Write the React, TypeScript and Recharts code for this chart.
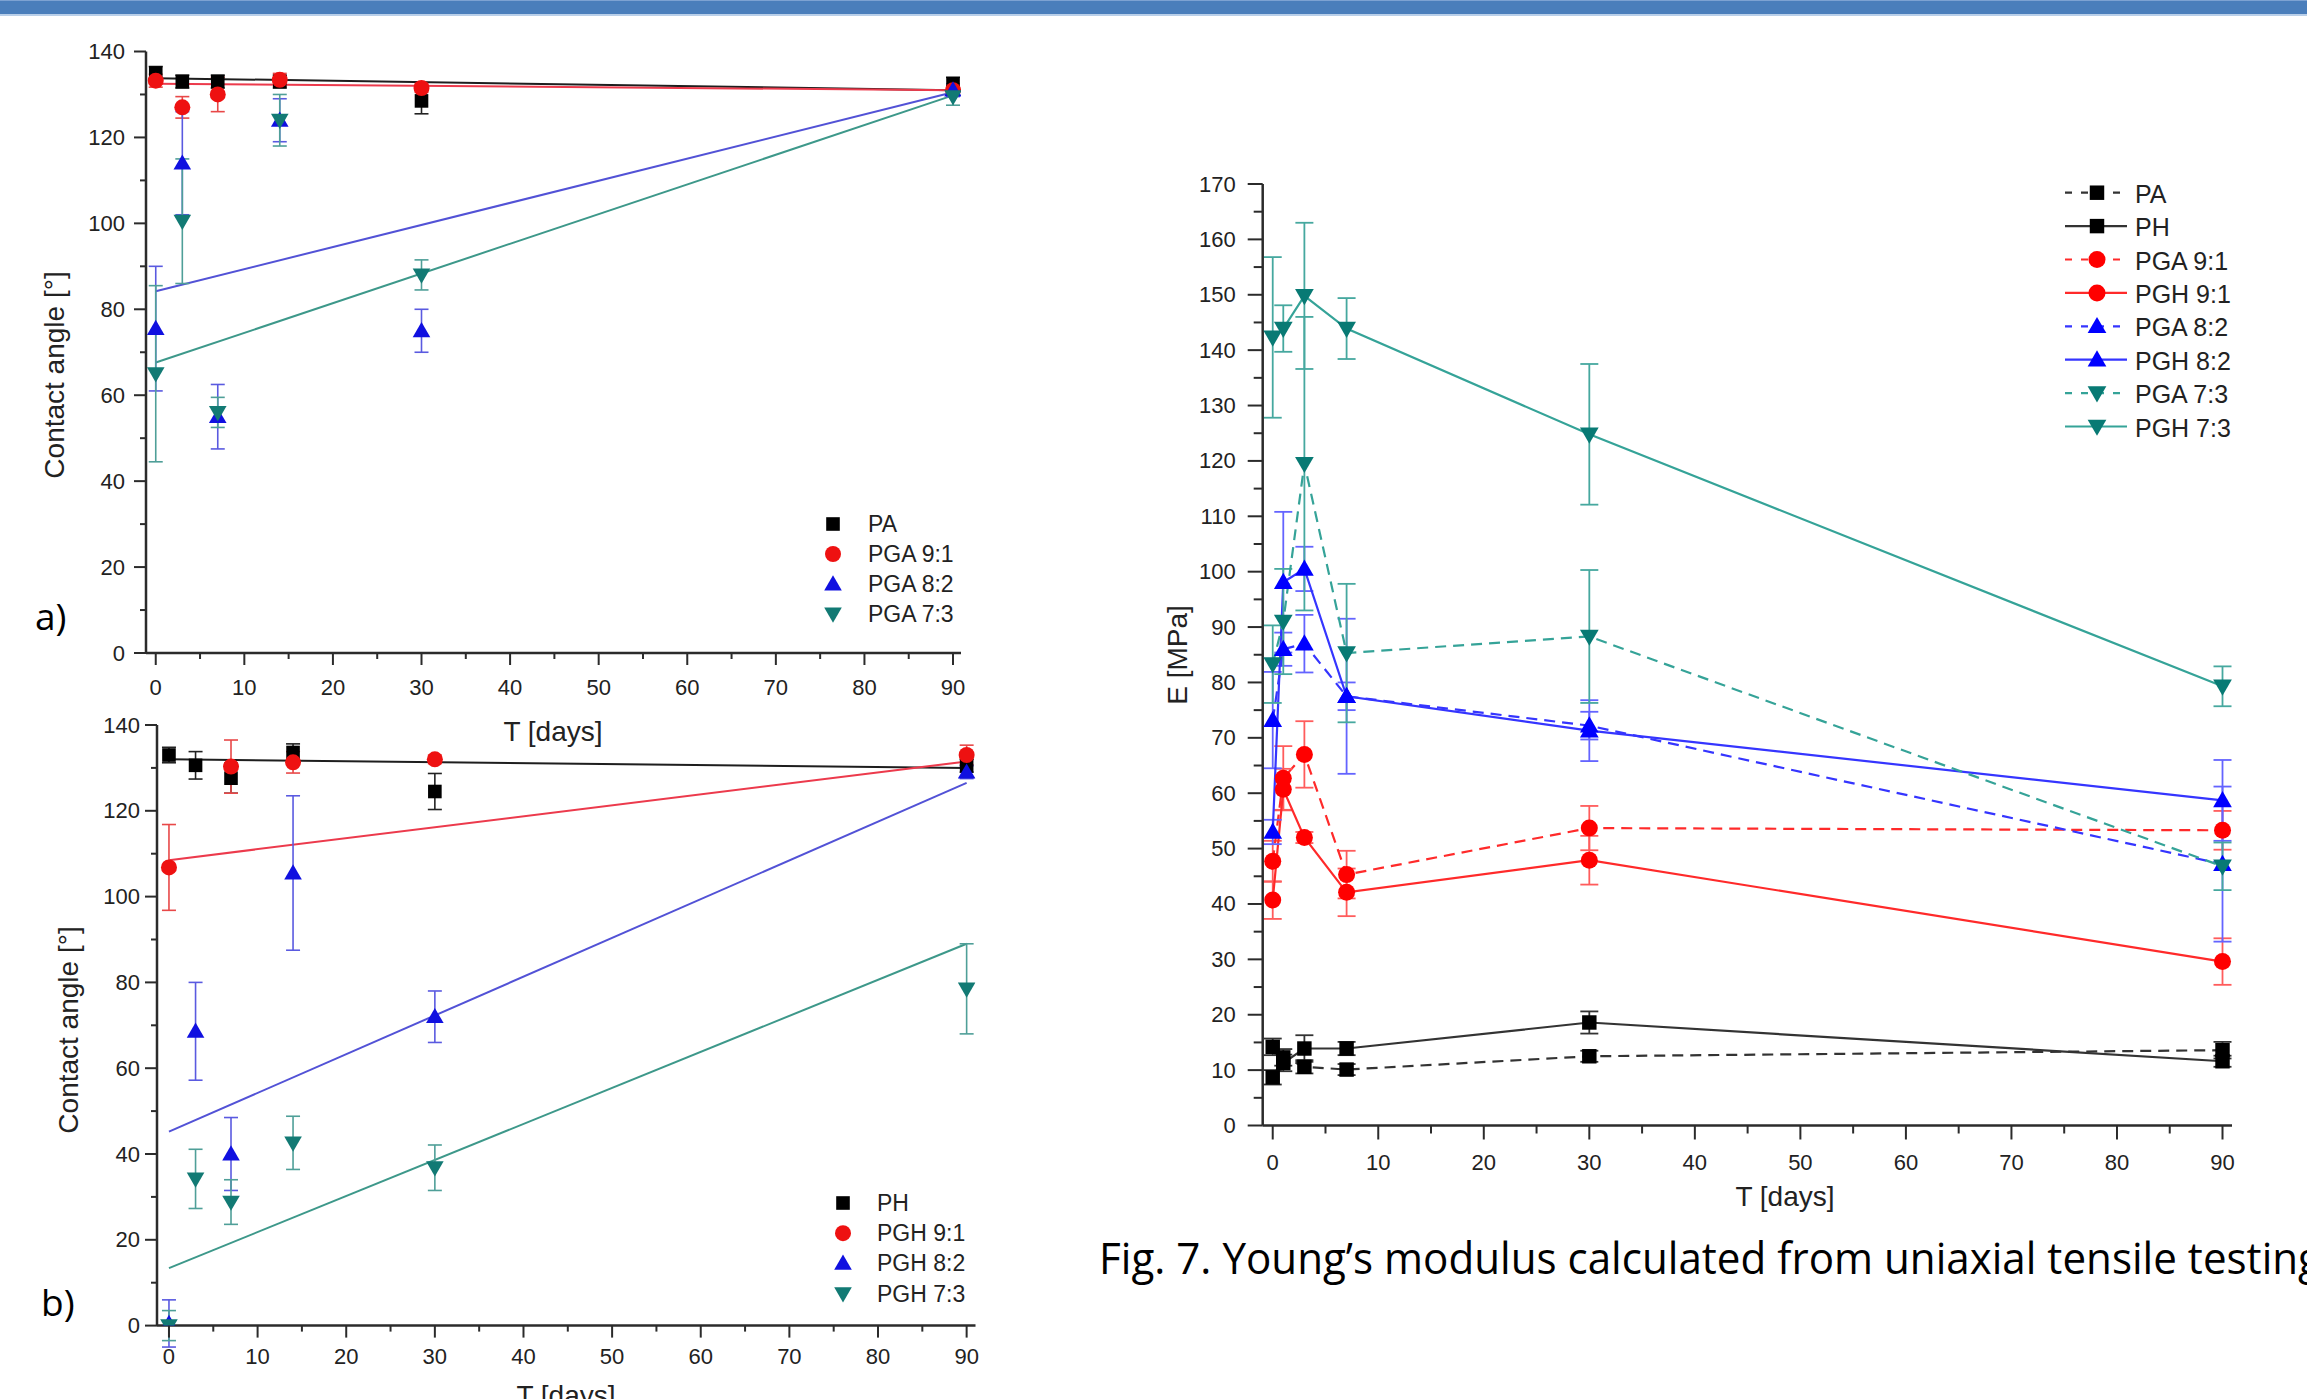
import React from 'react';
import { ComposedChart, Scatter, Line, XAxis, YAxis, ErrorBar, Legend, Label } from 'recharts';

// ---------- a) contact angle, PA / PGA ----------
const daysA = [0, 3, 7, 14, 30, 90];
const paAngle = [135, 133, 133, 133, 128.5, 132.5];
const paAngleErr = [1.5, 1.5, 1.5, 1.5, 3, 1.5];
const pga91Angle = [133.2, 127, 130, 133.4, 131.5, 131];
const pga91AngleErr = [1.5, 2.5, 4, 1.5, 1, 1];
const pga82Angle = [75.5, 114, 55, 124, 75, 131];
const pga82AngleErr = [14.5, 12, 7.5, 5, 5, 1.5];
const pga73Angle = [65, 100.5, 56, 124, 88, 129.5];
const pga73AngleErr = [20.5, 14.5, 3.5, 6, 3.5, 2];

// linear fits, drawn between day 0 and day 90
const fitDays = [0, 90];
const paFit = [133.8, 131];
const pga91Fit = [132.5, 131];
const pga82Fit = [84.2, 130.5];
const pga73Fit = [67.6, 129.8];

// ---------- b) contact angle, PH / PGH ----------
const daysB = [0, 3, 7, 14, 30, 90];
const phAngle = [133, 130.6, 127.6, 133.6, 124.5, 130.5];
const phAngleErr = [1.8, 3.2, 3.5, 2, 4.2, 1.5];
const pgh91Days = [0, 7, 14, 30, 90];
const pgh91Angle = [106.8, 130.3, 131.3, 132, 133];
const pgh91AngleErr = [10, 6.2, 2.5, 1, 2.3];
const pgh82Angle = [0.5, 68.6, 40, 105.5, 72, 129];
const pgh82AngleErr = [5.5, 11.4, 8.5, 18, 6, 1.5];
const pgh73Angle = [0, 34.2, 28.8, 42.6, 36.8, 78.5];
const pgh73AngleErr = [3.5, 6.9, 5.2, 6.2, 5.3, 10.5];

const phFit = [132, 130];
const pgh91Fit = [108.5, 131.5];
const pgh82Fit = [45.2, 126.5];
const pgh73Fit = [13.4, 89];

// ---------- Young's modulus ----------
const daysE = [0, 1, 3, 7, 30, 90];
const paE = [8.7, 12.3, 10.6, 10.1, 12.5, 13.6];
const paEErr = [1.3, 1.5, 1.2, 1, 1, 1.5];
const phE = [14.2, 11.3, 13.9, 13.9, 18.6, 11.6];
const phEErr = [1.5, 1.5, 2.4, 1.2, 2, 1];
const pga91E = [47.7, 62.7, 67, 45.3, 53.7, 53.3];
const pga91EErr = [3.7, 5.8, 6, 4.3, 4, 3.5];
const pgh91E = [40.7, 60.7, 52, 42.1, 47.9, 29.6];
const pgh91EErr = [3.4, 3.7, 1, 4.3, 4.4, 4.2];
const pga82E = [73.2, 86, 87, 77.5, 72.2, 47.2];
const pga82EErr = [8.7, 3, 5.2, 2.5, 2.5, 14];
const pgh82E = [53, 98.1, 100.5, 77.5, 71.3, 58.7];
const pgh82EErr = [2.2, 12.7, 4, 14, 5.5, 7.3];
const pga73E = [83.3, 91, 119.5, 85.3, 88.3, 46.8];
const pga73EErr = [7, 9.5, 26.5, 12.5, 12, 4.3];
const pgh73E = [142.3, 143.9, 149.8, 143.9, 124.8, 79.3];
const pgh73EErr = [14.5, 4.2, 13.2, 5.5, 12.7, 3.6];

// ticks
const dayTicks = [0, 5, 10, 15, 20, 25, 30, 35, 40, 45, 50, 55, 60, 65, 70, 75, 80, 85, 90];
const angleTicks = [0, 10, 20, 30, 40, 50, 60, 70, 80, 90, 100, 110, 120, 130, 140];
const modulusTicks = [
  0, 5, 10, 15, 20, 25, 30, 35, 40, 45, 50, 55, 60, 65, 70, 75, 80, 85, 90, 95, 100, 105, 110, 115,
  120, 125, 130, 135, 140, 145, 150, 155, 160, 165, 170,
];

const AXIS = '#2b2b2b';
const FONT = '"Liberation Sans", Arial, sans-serif';

type Kind = 'square' | 'circle' | 'up' | 'down';

const rows = (days: number[], vals: number[], errs: number[]) =>
  days.map((x, i) => ({ x, y: vals[i], err: errs[i] }));
const fitRows = (vals: number[]) => fitDays.map((x, i) => ({ x, y: vals[i] }));

function Marker({ cx, cy, kind, color, size }: { cx: number; cy: number; kind: Kind; color: string; size: number }) {
  if (cx == null || cy == null || isNaN(cx) || isNaN(cy)) return null;
  const r = size / 2;
  if (kind === 'square') return <rect x={cx - r * 0.85} y={cy - r * 0.85} width={size * 0.85} height={size * 0.85} fill={color} />;
  if (kind === 'circle') return <circle cx={cx} cy={cy} r={r} fill={color} />;
  if (kind === 'up')
    return <polygon points={`${cx},${cy - r * 1.1} ${cx + r * 1.1},${cy + r * 0.8} ${cx - r * 1.1},${cy + r * 0.8}`} fill={color} />;
  return <polygon points={`${cx},${cy + r * 1.1} ${cx + r * 1.1},${cy - r * 0.8} ${cx - r * 1.1},${cy - r * 0.8}`} fill={color} />;
}

const xTick = (every: number, major: number, minor: number, gap: number, fs: number) => (p: any) => {
  const v = p.payload.value;
  const big = Math.abs(v % every) < 1e-6;
  return (
    <g key={`x${v}`}>
      <line x1={p.x} x2={p.x} y1={p.y} y2={p.y + (big ? major : minor)} stroke={AXIS} strokeWidth={2} />
      {big && (
        <text x={p.x} y={p.y + gap} textAnchor="middle" dominantBaseline="central" fontSize={fs} fontFamily={FONT} fill="#222">
          {v}
        </text>
      )}
    </g>
  );
};

const yTick = (every: number, major: number, minor: number, gap: number, fs: number) => (p: any) => {
  const v = p.payload.value;
  const big = Math.abs(v % every) < 1e-6;
  return (
    <g key={`y${v}`}>
      <line x1={p.x} x2={p.x - (big ? major : minor)} y1={p.y} y2={p.y} stroke={AXIS} strokeWidth={2} />
      {big && (
        <text x={p.x - gap} y={p.y} textAnchor="end" dominantBaseline="central" fontSize={fs} fontFamily={FONT} fill="#222">
          {v}
        </text>
      )}
    </g>
  );
};

type AngleSeries = { name: string; kind: Kind; color: string; errColor: string; data: any[]; fit: any[]; fitColor: string };

const seriesA: AngleSeries[] = [
  { name: 'PA', kind: 'square', color: '#000', errColor: '#222', data: rows(daysA, paAngle, paAngleErr), fit: fitRows(paFit), fitColor: '#1e1e1e' },
  { name: 'PGA 9:1', kind: 'circle', color: '#ee1111', errColor: '#e84848', data: rows(daysA, pga91Angle, pga91AngleErr), fit: fitRows(pga91Fit), fitColor: '#ec3a4c' },
  { name: 'PGA 8:2', kind: 'up', color: '#1010e0', errColor: '#5a5ae0', data: rows(daysA, pga82Angle, pga82AngleErr), fit: fitRows(pga82Fit), fitColor: '#5252d6' },
  { name: 'PGA 7:3', kind: 'down', color: '#127a74', errColor: '#4f9f98', data: rows(daysA, pga73Angle, pga73AngleErr), fit: fitRows(pga73Fit), fitColor: '#3d988a' },
];

const seriesB: AngleSeries[] = [
  { name: 'PH', kind: 'square', color: '#000', errColor: '#222', data: rows(daysB, phAngle, phAngleErr), fit: fitRows(phFit), fitColor: '#1e1e1e' },
  { name: 'PGH 9:1', kind: 'circle', color: '#ee1111', errColor: '#e84848', data: rows(pgh91Days, pgh91Angle, pgh91AngleErr), fit: fitRows(pgh91Fit), fitColor: '#ec3a4c' },
  { name: 'PGH 8:2', kind: 'up', color: '#1010e0', errColor: '#5a5ae0', data: rows(daysB, pgh82Angle, pgh82AngleErr), fit: fitRows(pgh82Fit), fitColor: '#5252d6' },
  { name: 'PGH 7:3', kind: 'down', color: '#127a74', errColor: '#4f9f98', data: rows(daysB, pgh73Angle, pgh73AngleErr), fit: fitRows(pgh73Fit), fitColor: '#3d988a' },
];

type AngleProps = {
  series: AngleSeries[];
  top: number;
  width: number;
  height: number;
  margin: { top: number; right: number; bottom: number; left: number };
  xAxisHeight: number;
  xDomain: [number, number];
  xLabelGap: number;
  yLabelGap: number;
  xTitle: [number, number];
  yTitle: [number, number];
  legend: { mx: number; tx: number; y0: number; step: number };
};

function AngleChart(p: AngleProps) {
  const legendContent = () => (
    <svg width={p.width} height={p.height} style={{ overflow: 'visible' }}>
      {p.series.map((s, i) => {
        const y = p.legend.y0 + i * p.legend.step;
        return (
          <g key={s.name}>
            <Marker cx={p.legend.mx} cy={y} kind={s.kind} color={s.color} size={16} />
            <text x={p.legend.tx} y={y} dominantBaseline="central" fontSize={23} fontFamily={FONT} fill="#222">
              {s.name}
            </text>
          </g>
        );
      })}
    </svg>
  );
  return (
    <div style={{ position: 'absolute', left: 0, top: p.top }}>
      <ComposedChart width={p.width} height={p.height} margin={p.margin}>
        <XAxis
          type="number"
          dataKey="x"
          domain={p.xDomain}
          allowDataOverflow
          ticks={dayTicks}
          interval={0}
          height={p.xAxisHeight}
          tickSize={0}
          tickMargin={0}
          tickLine={false}
          axisLine={{ stroke: AXIS, strokeWidth: 2.5 }}
          tick={xTick(10, 12, 6, p.xLabelGap, 22)}
        >
          <Label
            content={() => (
              <text x={p.xTitle[0]} y={p.xTitle[1]} textAnchor="middle" dominantBaseline="central" fontSize={28} fontFamily={FONT} fill="#222">
                T [days]
              </text>
            )}
          />
        </XAxis>
        <YAxis
          type="number"
          domain={[0, 140]}
          allowDataOverflow
          ticks={angleTicks}
          interval={0}
          width={100}
          tickSize={0}
          tickMargin={0}
          tickLine={false}
          axisLine={{ stroke: AXIS, strokeWidth: 2.5 }}
          tick={yTick(20, 12, 6, p.yLabelGap, 22)}
        >
          <Label
            content={() => (
              <text
                x={p.yTitle[0]}
                y={p.yTitle[1]}
                transform={`rotate(-90 ${p.yTitle[0]} ${p.yTitle[1]})`}
                textAnchor="middle"
                dominantBaseline="central"
                fontSize={28}
                fontFamily={FONT}
                fill="#222"
              >
                Contact angle [°]
              </text>
            )}
          />
        </YAxis>
        {p.series.map((s) => (
          <Line
            key={`fit-${s.name}`}
            data={s.fit}
            dataKey="y"
            type="linear"
            stroke={s.fitColor}
            strokeWidth={2}
            dot={false}
            activeDot={false}
            legendType="none"
            isAnimationActive={false}
          />
        ))}
        {p.series.map((s) => (
          <Scatter
            key={s.name}
            name={s.name}
            data={s.data}
            dataKey="y"
            isAnimationActive={false}
            shape={(q: any) => <Marker cx={q.cx} cy={q.cy} kind={s.kind} color={s.color} size={16} />}
          >
            <ErrorBar dataKey="err" direction="y" width={7} stroke={s.errColor} strokeWidth={1.6} isAnimationActive={false} />
          </Scatter>
        ))}
        <Legend
          layout="vertical"
          align="center"
          verticalAlign="middle"
          content={legendContent}
          wrapperStyle={{ left: 0, top: 0, width: p.width, height: p.height, pointerEvents: 'none' }}
        />
      </ComposedChart>
    </div>
  );
}

type ModSeries = { name: string; kind: Kind; color: string; line: string; err: string; dashed: boolean; data: any[] };

const BLACK = { color: '#000', line: '#333', err: '#333' };
const RED = { color: '#ff0000', line: '#ff2a2a', err: '#ff5c5c' };
const BLUE = { color: '#0000ff', line: '#3535ff', err: '#6464ff' };
const TEAL = { color: '#087a74', line: '#35a398', err: '#46a89f' };

const modSeries: ModSeries[] = [
  { name: 'PA', kind: 'square', ...BLACK, dashed: true, data: rows(daysE, paE, paEErr) },
  { name: 'PH', kind: 'square', ...BLACK, dashed: false, data: rows(daysE, phE, phEErr) },
  { name: 'PGA 9:1', kind: 'circle', ...RED, dashed: true, data: rows(daysE, pga91E, pga91EErr) },
  { name: 'PGH 9:1', kind: 'circle', ...RED, dashed: false, data: rows(daysE, pgh91E, pgh91EErr) },
  { name: 'PGA 8:2', kind: 'up', ...BLUE, dashed: true, data: rows(daysE, pga82E, pga82EErr) },
  { name: 'PGH 8:2', kind: 'up', ...BLUE, dashed: false, data: rows(daysE, pgh82E, pgh82EErr) },
  { name: 'PGA 7:3', kind: 'down', ...TEAL, dashed: true, data: rows(daysE, pga73E, pga73EErr) },
  { name: 'PGH 7:3', kind: 'down', ...TEAL, dashed: false, data: rows(daysE, pgh73E, pgh73EErr) },
];

function ModulusChart() {
  const W = 1207;
  const H = 1100;
  const legendContent = () => (
    <svg width={W} height={H} style={{ overflow: 'visible' }}>
      {modSeries.map((s, i) => {
        const y = 42.7 + i * 33.4;
        return (
          <g key={s.name}>
            <line x1={965} x2={1027} y1={y} y2={y} stroke={s.line} strokeWidth={2.2} strokeDasharray={s.dashed ? '7 9' : undefined} />
            <Marker cx={997} cy={y} kind={s.kind} color={s.color} size={17} />
            <text x={1035} y={y + 1} dominantBaseline="central" fontSize={25} fontFamily={FONT} fill="#222">
              {s.name}
            </text>
          </g>
        );
      })}
    </svg>
  );
  return (
    <div style={{ position: 'absolute', left: 1100, top: 150 }}>
      <ComposedChart width={W} height={H} margin={{ top: 34, right: 75, bottom: 24.5, left: 62.7 }}>
        <XAxis
          type="number"
          dataKey="x"
          domain={[-0.95, 90.9]}
          allowDataOverflow
          ticks={dayTicks}
          interval={0}
          height={100}
          tickSize={0}
          tickMargin={0}
          tickLine={false}
          axisLine={{ stroke: AXIS, strokeWidth: 2.5 }}
          tick={xTick(10, 14, 8, 36.5, 22)}
        >
          <Label
            content={() => (
              <text x={685} y={1046} textAnchor="middle" dominantBaseline="central" fontSize={28} fontFamily={FONT} fill="#222">
                T [days]
              </text>
            )}
          />
        </XAxis>
        <YAxis
          type="number"
          domain={[0, 170]}
          allowDataOverflow
          ticks={modulusTicks}
          interval={0}
          width={100}
          tickSize={0}
          tickMargin={0}
          tickLine={false}
          axisLine={{ stroke: AXIS, strokeWidth: 2.5 }}
          tick={yTick(10, 15, 9, 27, 22)}
        >
          <Label
            content={() => (
              <text x={77} y={505} transform="rotate(-90 77 505)" textAnchor="middle" dominantBaseline="central" fontSize={28} fontFamily={FONT} fill="#222">
                E [MPa]
              </text>
            )}
          />
        </YAxis>
        {modSeries.map((s) => (
          <Line
            key={s.name}
            name={s.name}
            data={s.data}
            dataKey="y"
            type="linear"
            stroke={s.line}
            strokeWidth={2.2}
            strokeDasharray={s.dashed ? '11 7' : undefined}
            activeDot={false}
            isAnimationActive={false}
            dot={(q: any) => <Marker key={`${s.name}-${q.index}`} cx={q.cx} cy={q.cy} kind={s.kind} color={s.color} size={17} />}
          >
            <ErrorBar dataKey="err" direction="y" width={9} stroke={s.err} strokeWidth={1.8} isAnimationActive={false} />
          </Line>
        ))}
        <Legend
          layout="vertical"
          align="center"
          verticalAlign="middle"
          content={legendContent}
          wrapperStyle={{ left: 0, top: 0, width: W, height: H, pointerEvents: 'none' }}
        />
      </ComposedChart>
    </div>
  );
}

export default function App() {
  return (
    <div style={{ position: 'fixed', left: 0, top: 0, width: 2307, height: 1399, background: '#fff', overflow: 'hidden' }}>
      <div style={{ position: 'absolute', left: 0, top: 0, width: 2307, height: 13, background: '#4a7ebb', borderTop: '1px solid #7da2d2', borderBottom: '2px solid #b9cfe9' }} />
      <AngleChart
        series={seriesA}
        top={0}
        width={1000}
        height={760}
        margin={{ top: 51.5, right: 39, bottom: 7, left: 46 }}
        xAxisHeight={100}
        xDomain={[-1.1, 90.9]}
        xLabelGap={34}
        yLabelGap={21}
        xTitle={[553, 731]}
        yTitle={[54, 375]}
        legend={{ mx: 833, tx: 868, y0: 524, step: 30 }}
      />
      <AngleChart
        series={seriesB}
        top={700}
        width={1000}
        height={699}
        margin={{ top: 25, right: 24.5, bottom: 3.4, left: 57 }}
        xAxisHeight={70}
        xDomain={[-1.35, 91]}
        xLabelGap={31}
        yLabelGap={17}
        xTitle={[566, 695]}
        yTitle={[68, 330]}
        legend={{ mx: 843, tx: 877, y0: 503, step: 30.2 }}
      />
      <ModulusChart />
      <svg style={{ position: 'absolute', left: 0, top: 0 }} width={2307} height={1399} pointerEvents="none">
        <text x={35} y={630} fontSize={37} fontFamily='"Open Sans", sans-serif' fill="#000">
          a)
        </text>
        <text x={41} y={1316} fontSize={37} fontFamily='"Open Sans", sans-serif' fill="#000">
          b)
        </text>
        <text x={1099} y={1274} fontSize={43} fontFamily='"Open Sans", sans-serif' fill="#000" textLength={1222} lengthAdjust="spacingAndGlyphs">
          Fig. 7. Young’s modulus calculated from uniaxial tensile testing
        </text>
      </svg>
    </div>
  );
}
